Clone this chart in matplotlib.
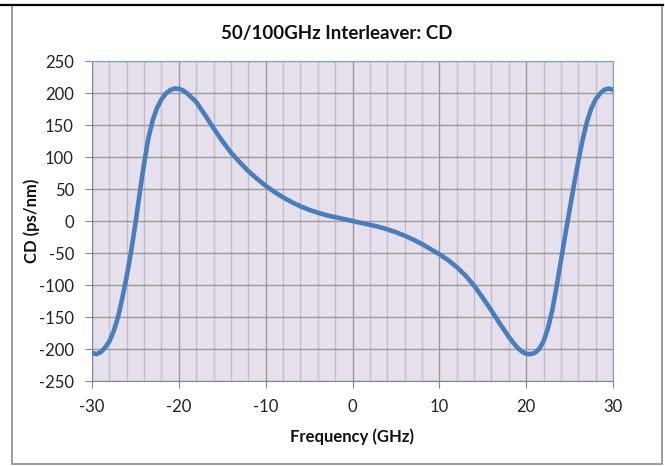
import matplotlib.pyplot as plt
from matplotlib.lines import Line2D
from matplotlib.patches import Rectangle

# Data
freq = [-30, -29.5, -29, -28.5, -28, -27.5, -27, -26.5, -26, -25.5, -25,
        -24.5, -24, -23.5, -23, -22.5, -22, -21.5, -21, -20.5, -20, -19.5,
        -19, -18, -17, -16, -15, -14, -13, -12, -11, -10, -9, -8, -7, -6,
        -5, -4, -3, -2, -1,
        0, 1, 2, 3, 4, 5, 6, 7, 8, 9, 10, 11, 12, 13, 14, 15, 16, 17, 18,
        18.5, 19, 19.5, 20,
        20.5, 21, 21.5, 22, 22.5, 23, 23.5, 24, 24.5, 25, 25.5, 26, 26.5,
        27, 27.5, 28, 28.5, 29, 29.5, 30]
cd = [-206, -208, -205, -198, -188, -172, -150, -120, -86, -48, -4,
      44, 90, 130, 158, 177, 190, 199, 204.5, 207, 206.5, 204,
      199, 186, 166, 145, 125, 107, 92, 78, 66, 55, 45.5, 37, 29.5, 23,
      17.5, 13, 9, 6, 3,
      0, -3, -6, -9, -13, -17.5, -23, -29, -36, -44, -52, -61, -72, -85, -101, -120, -140, -161, -181,
      -190, -198, -204, -207.5,
      -208, -206, -200, -188, -168, -140, -103, -62, -22, 17, 56, 93, 127,
      155, 176, 190, 199, 205, 207, 205]

x_ticks = list(range(-30, 31, 10))
x_minor = list(range(-30, 31, 2))
y_ticks = list(range(-250, 251, 50))

plt.rcParams['font.family'] = ['Lato', 'DejaVu Sans']
plt.rcParams['axes.unicode_minus'] = False

fig = plt.figure(figsize=(6.65, 4.66), dpi=100)
W, H = 665, 466

# chart border and the black line on top of the screenshot
fig.patches.append(Rectangle((12 / W, 1 - 464 / H), 650 / W, 459 / H,
                             transform=fig.transFigure, fill=False,
                             edgecolor='#8c8c8c', linewidth=1.2))
fig.lines.append(Line2D([0, 663 / W], [1 - 4.5 / H, 1 - 4.5 / H],
                        transform=fig.transFigure, color='black', linewidth=1.6))

ax = fig.add_axes([92 / W, 1 - 381 / H, 521 / W, 320 / H])
ax.set_facecolor('#E6E0EC')

ax.plot(freq, cd, color='#4A7EBB', linewidth=3.3, solid_capstyle='round',
        solid_joinstyle='round', zorder=3)

ax.set_xlim(-30, 30)
ax.set_ylim(-250, 250)
ax.set_xticks(x_ticks)
ax.set_xticks(x_minor, minor=True)
ax.set_yticks(y_ticks)

ax.grid(which='major', axis='both', color='#9a9a9a', linewidth=1.0, zorder=1)
ax.grid(which='minor', axis='x', color='#c4bccb', linewidth=1.0, zorder=1)
ax.set_axisbelow(True)

ax.tick_params(axis='both', which='major', direction='out', length=5,
               color='#868686', labelsize=12, labelcolor='#222222')
ax.tick_params(axis='x', pad=8)
ax.tick_params(axis='y', pad=8)
ax.tick_params(which='minor', length=0)

for side in ['left', 'bottom']:
    ax.spines[side].set_color('#868686')
for side in ['top', 'right']:
    ax.spines[side].set_color('#7BA3D5')

fig.text(337 / W, 1 - 33 / H, '50/100GHz Interleaver: CD', ha='center', va='center',
         fontsize=13.5, fontweight='bold', color='#111111')
fig.text(352 / W, 1 - 437 / H, 'Frequency (GHz)', ha='center', va='center',
         fontsize=12, fontweight='bold', color='#111111')
fig.text(32 / W, 1 - 221 / H, 'CD (ps/nm)', ha='center', va='center', rotation=90,
         fontsize=12, fontweight='bold', color='#111111')

fig.savefig('out.png', dpi=100)
